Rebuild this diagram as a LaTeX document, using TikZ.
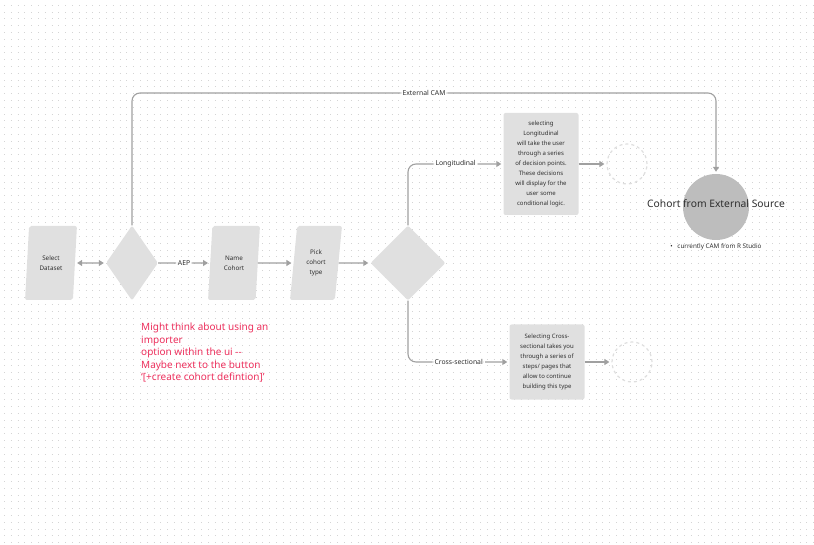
\documentclass[tikz,border=0pt]{standalone}
\usepackage{fontspec}
\setmainfont{Noto Sans}
\usetikzlibrary{arrows.meta,shapes.geometric}
\definecolor{shapegray}{HTML}{E0E0E0}
\definecolor{sourcegray}{HTML}{BDBDBD}
\definecolor{linegray}{HTML}{A0A0A0}
\definecolor{inkgray}{HTML}{2E2E2E}
\definecolor{notered}{HTML}{EC2F5C}

\begin{document}
\begin{tikzpicture}[x=1pt,y=-1pt,font=\fontsize{6}{10}\selectfont,text=inkgray,>={Triangle[length=5pt,width=6pt]},
  dots/.style={draw=black!17,line width=1pt,dash pattern=on 1pt off 5.8pt},
  data/.style={trapezium,trapezium left angle=82,trapezium right angle=98,trapezium stretches=true,fill=shapegray,rounded corners=2pt,minimum width=52,minimum height=74,inner sep=0pt,align=center,font=\fontsize{6.3}{10}\selectfont},
  choice/.style={diamond,fill=shapegray,rounded corners=2pt,inner sep=0pt},
  note/.style={rectangle,fill=shapegray,rounded corners=2pt,minimum width=75,inner sep=0pt,align=center},
  target/.style={circle,draw=black!13,dashed,line width=1.2pt,minimum size=40},
  flow/.style={->,draw=linegray,line width=1.1pt,rounded corners=8pt,shorten >=2pt},
  lab/.style={fill=white,inner sep=2pt,font=\fontsize{6.8}{8}\selectfont}]
\useasboundingbox (0,0) rectangle (814,545);
% dotted canvas
\foreach \r in {0,...,79} \draw[dots] (4,5.4+6.8*\r) -- (814,5.4+6.8*\r);
% main row
\node[data] (sel) at (51,263) {Select\\Dataset};
\node[choice,minimum width=52,minimum height=75] (d1) at (132,263) {};
\node[data] (name) at (234,263) {Name\\Cohort};
\node[data] (pick) at (316,263) {Pick\\cohort\\type};
\node[choice,minimum width=75,minimum height=75] (d2) at (408,263) {};
% branches
\node[note,minimum height=102] (lbox) at (541,164) {selecting\\Longitudinal\\will take the user\\through a series\\of decision points.\\These decisions\\will display for the\\user some\\conditional logic.};
\node[note,minimum height=75] (cbox) at (547,362) {Selecting Cross-\\sectional takes you\\through a series of\\steps/ pages that\\allow to continue\\building this type};
\node[target] (lend) at (627,164) {};
\node[target] (cend) at (632,362) {};
% external source
\node[circle,fill=sourcegray,minimum size=66] (ext) at (716,207) {};
\node[font=\fontsize{10.3}{12}\selectfont] (extlab) at (716,204) {Cohort from External Source};
\node[font=\fontsize{6.3}{7}\selectfont] (extnote) at (716,247) {\textbullet\hspace{3pt} currently CAM from R Studio};
\node[anchor=north west,inner sep=0pt,text=notered,align=left,font=\fontsize{10}{12.4}\selectfont] (idea) at (141,323) {Might think about using an\\importer\\option within the ui {-}{-}\\Maybe next to the button\\`[+create cohort defintion]'};
\coordinate (camrow) at (424,93);
% connectors
\draw[flow,<->,shorten <=2pt] (sel) -- (d1);
\draw[flow] (d1) -- node[lab]{AEP} (name);
\draw[flow] (name) -- (pick);
\draw[flow] (pick) -- (d2);
\draw[flow] (d2.north) |- node[lab,pos=0.75]{Longitudinal} (lbox.west);
\draw[flow] (lbox) -- (lend);
\draw[flow] (d2.south) |- node[lab,pos=0.75]{Cross-sectional} (cbox.west);
\draw[flow] (cbox) -- (cend);
\draw[flow] (d1.north) |- (camrow) node[lab]{External CAM} -| (ext.north);
\end{tikzpicture}
\end{document}
